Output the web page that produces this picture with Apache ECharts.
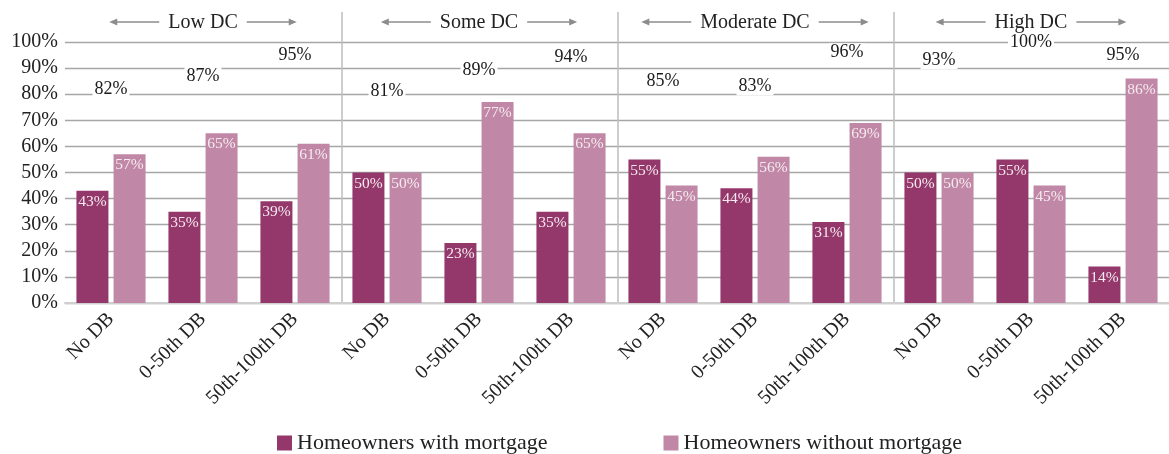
<!DOCTYPE html>
<html>
<head>
<meta charset="utf-8">
<script src="https://cdn.jsdelivr.net/npm/echarts@6/dist/echarts.min.js"></script>
<style>
  html, body { margin: 0; padding: 0; background: #fff; }
  #main { width: 1169px; height: 454px; }
</style>
</head>
<body>
<div id="main"></div>
<script>
var categories = ['No DB', '0-50th DB', '50th-100th DB',
                  'No DB', '0-50th DB', '50th-100th DB',
                  'No DB', '0-50th DB', '50th-100th DB',
                  'No DB', '0-50th DB', '50th-100th DB'];
var groupNames = ['Low DC', 'Some DC', 'Moderate DC', 'High DC'];
var withMortgage = [43, 35, 39, 50, 23, 35, 55, 44, 31, 50, 55, 14];
var withoutMortgage = [57, 65, 61, 50, 77, 65, 45, 56, 69, 50, 45, 86];
var ownershipRate = [82, 87, 95, 81, 89, 94, 85, 83, 96, 93, 100, 95];
var seriesNames = ['Homeowners with mortgage', 'Homeowners without mortgage'];

var darkColor = '#94376a';
var lightColor = '#c088a6';
var fontFam = '"Liberation Serif", "Times New Roman", serif';

var chart = echarts.init(document.getElementById('main'));

var barLabel = {
    show: true,
    position: 'insideTop',
    distance: 3,
    color: '#f6eaf0',
    fontSize: 15.5,
    fontFamily: fontFam,
    formatter: '{c}%'
};

var option = {
    animation: false,
    grid: { left: 65, top: 42, width: 1116, height: 261 },
    legend: {
        data: seriesNames,
        left: 272,
        top: 427,
        itemWidth: 15,
        itemHeight: 15,
        itemGap: 116,
        icon: 'rect',
        textStyle: { fontSize: 22, color: '#222', fontFamily: fontFam }
    },
    xAxis: {
        type: 'category',
        data: categories,
        axisLine: { lineStyle: { color: '#cfcfcf', width: 2 } },
        axisTick: { show: false },
        axisLabel: {
            rotate: 45,
            interval: 0,
            margin: 13,
            fontSize: 20,
            color: '#222',
            fontFamily: fontFam
        }
    },
    yAxis: {
        type: 'value',
        min: 0,
        max: 100,
        interval: 10,
        axisLine: { show: false },
        axisTick: { show: false },
        axisLabel: {
            formatter: '{value}%',
            fontSize: 20,
            margin: 7,
            color: '#222',
            fontFamily: fontFam
        },
        splitLine: { lineStyle: { color: '#a6a6a6', width: 1.3 } }
    },
    series: [
        {
            name: seriesNames[0],
            type: 'bar',
            data: withMortgage,
            barWidth: 32,
            barGap: '16%',
            itemStyle: { color: darkColor },
            label: barLabel
        },
        {
            name: seriesNames[1],
            type: 'bar',
            data: withoutMortgage,
            barWidth: 32,
            barGap: '16%',
            itemStyle: { color: lightColor },
            label: barLabel
        },
        {
            name: 'rate',
            type: 'scatter',
            data: ownershipRate,
            symbolSize: 0,
            itemStyle: { color: '#fff', opacity: 1 },
            z: 5,
            label: {
                show: true,
                position: 'inside',
                formatter: '{c}%',
                color: '#1a1a1a',
                fontSize: 18,
                fontFamily: fontFam,
                backgroundColor: '#fff',
                padding: [0, 2]
            }
        }
    ]
};

chart.setOption(option);

// group headers with arrows and separators, placed from the axis scale
var ctx = document.createElement('canvas').getContext('2d');
ctx.font = '20px ' + fontFam;
var graphics = [];
var yZero = chart.convertToPixel({ yAxisIndex: 0 }, 0);
var arrowColor = '#8c8c8c';
var headY = 22;

function arrow(x1, x2) {
    var dir = x2 > x1 ? 1 : -1;
    graphics.push({
        type: 'line',
        shape: { x1: x1, y1: headY, x2: x2 - dir * 6, y2: headY },
        style: { stroke: arrowColor, lineWidth: 1.3 }
    });
    graphics.push({
        type: 'polygon',
        shape: { points: [[x2, headY], [x2 - dir * 8, headY - 3.5], [x2 - dir * 8, headY + 3.5]] },
        style: { fill: arrowColor }
    });
}

for (var g = 0; g < groupNames.length; g++) {
    var cx = chart.convertToPixel({ xAxisIndex: 0 }, g * 3 + 1);
    var w = ctx.measureText(groupNames[g]).width;
    graphics.push({
        type: 'text',
        x: cx,
        y: headY + 1,
        style: {
            text: groupNames[g],
            fontSize: 20,
            fontFamily: fontFam,
            fill: '#222',
            align: 'center',
            verticalAlign: 'middle'
        }
    });
    arrow(cx - w / 2 - 9, cx - w / 2 - 59);
    arrow(cx + w / 2 + 9, cx + w / 2 + 59);
    if (g > 0) {
        var a = chart.convertToPixel({ xAxisIndex: 0 }, g * 3 - 1);
        var b = chart.convertToPixel({ xAxisIndex: 0 }, g * 3);
        var sx = (a + b) / 2 + 1;
        graphics.push({
            type: 'line',
            shape: { x1: sx, y1: 12, x2: sx, y2: yZero },
            style: { stroke: '#bdbdbd', lineWidth: 1.5 }
        });
    }
}

chart.setOption({ graphic: graphics });
</script>
</body>
</html>
